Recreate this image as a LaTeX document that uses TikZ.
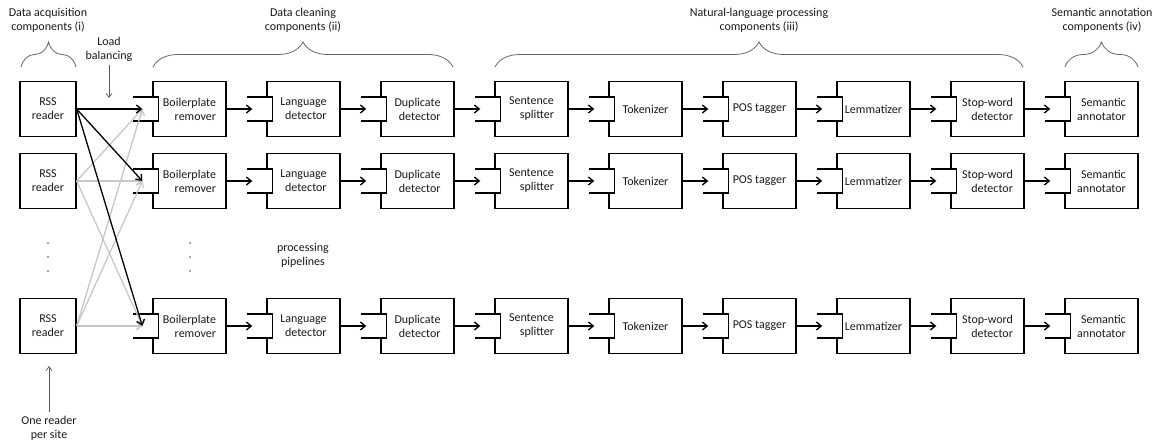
\documentclass[tikz,border=0pt]{standalone}
\usepackage{fontspec}
\setmainfont{Carlito}
\usetikzlibrary{arrows.meta,calc,decorations.pathreplacing}

\tikzset{
  stage/.style={draw, line width=1.3pt, minimum width=73pt, minimum height=55pt, align=right, inner sep=0pt},
  reader/.style={stage, minimum width=56pt, align=center},
  port/.style={draw, fill=white, line width=1.3pt},
  flow/.style={line width=1.3pt, -{Straight Barb[length=5pt,width=8pt]}},
  fan/.style={flow, black!22},
  note/.style={black!65, line width=0.7pt, -{Straight Barb[length=4pt,width=6pt]}},
  group/.style={decorate, decoration={brace, amplitude=25pt}, black!60, line width=0.8pt},
  caption/.style={align=center},
}

\begin{document}
\begin{tikzpicture}[x=1pt, y=-1pt, font=\fontsize{12}{14}\selectfont, text=black!90]
  \useasboundingbox (0,0) rectangle (1158,444);

  % component groups
  \node[caption] (t-acq) at (48,20) {Data acquisition\\components (i)};
  \node[caption] (t-clean) at (303,20) {Data cleaning\\components (ii)};
  \node[caption] (t-nlp) at (759,20) {Natural-language processing\\components (iii)};
  \node[caption] (t-sem) at (1102,20) {Semantic annotation\\components (iv)};
  \draw[group] (21,67) -- (76,67);
  \draw[group] (153,67) -- (453,67);
  \draw[group] (495,67) -- (1023,67);
  \draw[group] (1065,67) -- (1138,67);

  % pipelines
  \foreach \r/\y in {1/109, 2/181, 3/326} {
    \node[reader] (rss-\r) at (48,\y) {RSS\\reader};
    \node[stage] (s-\r-1) at (189.5,\y) {Boilerplate\\remover};
    \node[stage] (s-\r-2) at (303.5,\y) {Language\\detector};
    \node[stage] (s-\r-3) at (417.5,\y) {Duplicate\\detector};
    \node[stage] (s-\r-4) at (531.5,\y) {Sentence\\splitter};
    \node[stage] (s-\r-5) at (645.5,\y) {Tokenizer};
    \node[stage] (s-\r-6) at (759.5,\y) {POS tagger};
    \node[stage] (s-\r-7) at (873.5,\y) {Lemmatizer};
    \node[stage] (s-\r-8) at (987.5,\y) {Stop-word\\detector};
    \node[stage] (s-\r-9) at (1101.5,\y) {Semantic\\annotator};
    \foreach \c in {1,...,9} {
      \draw[port] ($(s-\r-\c.west)+(-19,-12)$) -- ++(25,0) -- ++(0,24) -- ++(-25,0);
      \coordinate (in-\r-\c) at ($(s-\r-\c.west)+(-14,0)$);
    }
    \coordinate (lb-\r) at ($(s-\r-1.west)+(-10,0)$);
    \foreach \c [count=\p] in {2,...,9}
      \draw[flow] (s-\r-\p) -- (in-\r-\c);
  }

  % load balancing
  \foreach \i in {2,3}
    \foreach \j in {1,2,3}
      \draw[fan] (rss-\i.east) -- (lb-\j);
  \foreach \j in {1,2,3}
    \draw[flow] (rss-1.east) -- (lb-\j);

  \foreach \x in {48,190}
    \foreach \y in {243,257,271}
      \fill[black!70] (\x,\y) circle[radius=0.8pt];
  \node[caption] (pp) at (303,255) {processing\\pipelines};

  \node[caption] (t-lb) at (109,49) {Load\\balancing};
  \coordinate (lb-tip) at (109,98);
  \draw[note] (t-lb.south) -- (lb-tip);
  \node[caption] (t-one) at (49,428) {One reader\\per site};
  \coordinate (one-tip) at (49,366);
  \draw[note] (t-one.north) -- (one-tip);
\end{tikzpicture}
\end{document}
